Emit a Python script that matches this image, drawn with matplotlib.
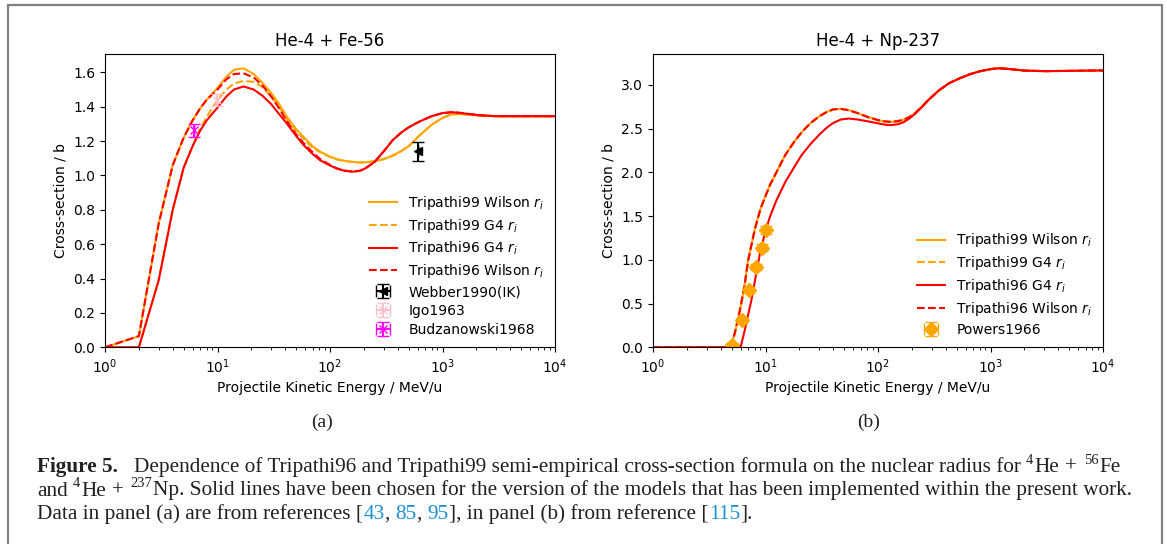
import matplotlib
matplotlib.use("Agg")
import matplotlib.pyplot as plt
from matplotlib.transforms import IdentityTransform
from matplotlib.patches import Rectangle

# ---------------- data: panel (a) He-4 + Fe-56 ----------------
energy_a = [1, 2, 3, 4, 5, 6, 7, 8, 10, 12, 14, 17, 21, 25, 30, 35, 41, 50, 58, 70,
            82, 100, 115, 135, 160, 185, 210, 250, 300, 360, 430, 500, 630, 800,
            1000, 1200, 1400, 1700, 2200, 3000, 5000, 10000]
t99_wilson_a = [0.0, 0.065, 0.72, 1.06, 1.22, 1.32, 1.39, 1.44, 1.51, 1.575, 1.615, 1.624,
                1.59, 1.54, 1.48, 1.42, 1.345, 1.27, 1.225, 1.17, 1.138, 1.11, 1.095,
                1.085, 1.079, 1.076, 1.077, 1.083, 1.095, 1.115, 1.142, 1.17, 1.235, 1.295,
                1.335, 1.355, 1.358, 1.354, 1.348, 1.345, 1.345, 1.345]
t99_g4_a = [0.0, 0.0, 0.39, 0.80, 1.045, 1.17, 1.27, 1.34, 1.44, 1.50, 1.535, 1.55,
            1.545, 1.515, 1.46, 1.405, 1.33, 1.26, 1.215, 1.162, 1.135, 1.107, 1.093,
            1.084, 1.078, 1.075, 1.077, 1.083, 1.095, 1.115, 1.142, 1.17, 1.235, 1.295,
            1.335, 1.355, 1.358, 1.354, 1.348, 1.345, 1.345, 1.345]
t96_g4_a = [0.0, 0.0, 0.39, 0.80, 1.045, 1.17, 1.26, 1.32, 1.395, 1.46, 1.50, 1.518,
            1.50, 1.465, 1.415, 1.36, 1.305, 1.23, 1.178, 1.125, 1.088, 1.058, 1.04,
            1.027, 1.022, 1.027, 1.044, 1.08, 1.14, 1.205, 1.25, 1.28, 1.315, 1.345,
            1.363, 1.368, 1.365, 1.358, 1.35, 1.345, 1.345, 1.345]
t96_wilson_a = [0.0, 0.065, 0.72, 1.06, 1.22, 1.32, 1.39, 1.44, 1.50, 1.56, 1.59, 1.595,
                1.57, 1.525, 1.46, 1.395, 1.32, 1.24, 1.19, 1.135, 1.095, 1.062, 1.041,
                1.028, 1.023, 1.028, 1.045, 1.08, 1.14, 1.205, 1.25, 1.28, 1.315, 1.345,
                1.363, 1.368, 1.365, 1.358, 1.35, 1.345, 1.345, 1.345]

webber_E = [600]
webber_xs = [1.14]
webber_err = [0.056]
igo_E = [9.8]
igo_xs = [1.44]
igo_err = [0.036]
budz_E = [6.2]
budz_xs = [1.263]
budz_err = [0.037]

# ---------------- data: panel (b) He-4 + Np-237 ----------------
energy_b = [1, 2, 3, 4, 4.8, 5, 5.4, 6, 6.5, 7, 7.5, 8, 9, 10, 11, 12.5, 15, 18, 21, 25,
            30, 35, 40, 47, 55, 65, 80, 100, 115, 130, 150, 170, 190, 215, 245, 280,
            350, 430, 530, 650, 800, 1000, 1200, 1500, 2000, 3000, 5000, 10000]
upper_b = [0.0, 0.0, 0.0, 0.0, 0.0, 0.03, 0.19, 0.46, 0.70, 0.99, 1.17, 1.34, 1.58,
           1.73, 1.86, 2.0, 2.2, 2.35, 2.46, 2.56, 2.64, 2.69, 2.72, 2.725, 2.71, 2.68,
           2.635, 2.597, 2.582, 2.577, 2.585, 2.603, 2.632, 2.68, 2.75, 2.826, 2.94,
           3.02, 3.074, 3.12, 3.155, 3.18, 3.19, 3.18, 3.163, 3.157, 3.16, 3.165]
t99_wilson_b = upper_b
t99_g4_b = upper_b
t96_wilson_b = upper_b
t96_g4_b = [0.0, 0.0, 0.0, 0.0, 0.0, 0.0, 0.0, 0.0, 0.18, 0.37, 0.54, 0.74, 1.10,
            1.33, 1.50, 1.68, 1.89, 2.06, 2.2, 2.32, 2.43, 2.51, 2.565, 2.605, 2.615,
            2.605, 2.585, 2.56, 2.545, 2.54, 2.55, 2.575, 2.615, 2.672, 2.745, 2.826,
            2.94, 3.02, 3.074, 3.12, 3.155, 3.18, 3.19, 3.18, 3.163, 3.157, 3.16, 3.165]

powers_E = [5.07, 6.22, 7.13, 8.18, 9.37, 10.2]
powers_xs = [0.03, 0.31, 0.655, 0.915, 1.14, 1.342]
powers_err = [0.02, 0.03, 0.03, 0.035, 0.037, 0.043]

# ---------------- figure ----------------
W, H = 1167, 544
fig = plt.figure(figsize=(W / 100, H / 100), dpi=100)
fig.patch.set_facecolor("white")

ax_b = (544 - 347.3) / H
ax_h = 293 / H
axA = fig.add_axes([105 / W, ax_b, 450 / W, ax_h])
axB = fig.add_axes([653 / W, ax_b, 450 / W, ax_h])

labels = ["Tripathi99 Wilson $r_i$", "Tripathi99 G4 $r_i$",
          "Tripathi96 G4 $r_i$", "Tripathi96 Wilson $r_i$"]
styles = [("orange", "-"), ("orange", "--"), ("red", "-"), ("red", "--")]

for series, (c, ls), lab in zip([t99_wilson_a, t99_g4_a, t96_g4_a, t96_wilson_a], styles, labels):
    axA.plot(energy_a, series, color=c, ls=ls, lw=1.5, label=lab)
axA.errorbar(webber_E, webber_xs, yerr=webber_err, xerr=[0], fmt="<", color="black",
             ms=6, capsize=4, label="Webber1990(IK)")
axA.errorbar(igo_E, igo_xs, yerr=igo_err, xerr=[0], fmt="x", color="pink",
             ms=6, capsize=4, label="Igo1963")
axA.errorbar(budz_E, budz_xs, yerr=budz_err, xerr=[0], fmt="x", color="magenta",
             ms=6, capsize=4, label="Budzanowski1968")

for series, (c, ls), lab in zip([t99_wilson_b, t99_g4_b, t96_g4_b, t96_wilson_b], styles, labels):
    axB.plot(energy_b, series, color=c, ls=ls, lw=1.5, label=lab)
axB.errorbar(powers_E, powers_xs, yerr=powers_err, xerr=[0] * len(powers_E), fmt="D",
             color="orange", ms=7, capsize=4, label="Powers1966")

for ax, title in [(axA, "He-4 + Fe-56"), (axB, "He-4 + Np-237")]:
    ax.set_xscale("log")
    ax.set_xlim(1, 1e4)
    ax.set_ylim(bottom=0)
    ax.set_title(title, fontsize=12)
    ax.set_xlabel("Projectile Kinetic Energy / MeV/u", fontsize=10)
    ax.set_ylabel("Cross-section / b", fontsize=10)
    ax.tick_params(labelsize=10)
    ax.legend(loc="lower right", frameon=False, fontsize=10, labelspacing=0.35,
              borderaxespad=0.35)

# ---------------- outer frame ----------------
fig.add_artist(Rectangle((8, -10), 1154, 539 + 10, transform=IdentityTransform(),
                         fill=False, edgecolor="#808080", lw=1.6))

# ---------------- panel letters ----------------
serif = "Liberation Serif"
txtc = "#231f20"
fig.text(322, H - 422, "(a)", transform=IdentityTransform(), ha="center", va="center",
         family=serif, fontsize=14, color=txtc)
fig.text(869, H - 422, "(b)", transform=IdentityTransform(), ha="center", va="center",
         family=serif, fontsize=14, color=txtc)

# ---------------- caption ----------------
renderer = fig.canvas.get_renderer()
blue = "#1a8fd6"


def draw_runs(x0, y_base, runs, size, draw=True):
    """runs: list of (text, gap_em, opts). Returns end x."""
    x = x0
    arts = []
    px = size * 100 / 72.0
    for text, gap, opts in runs:
        x += gap * px
        sc = opts.get("scale", 1.0)
        rise = opts.get("rise", 0.0) * px
        t = fig.text(x, H - y_base + rise, text, transform=IdentityTransform(),
                     ha="left", va="baseline", family=serif, fontsize=size * sc,
                     color=opts.get("color", txtc),
                     fontweight=opts.get("weight", "normal"))
        bb = t.get_window_extent(renderer)
        x = bb.x1
        arts.append(t)
    if not draw:
        for a in arts:
            a.remove()
    return x


SUP = {"scale": 0.68, "rise": 0.38}
B = {"color": blue}
line1 = [("Figure 5.", 0, {"weight": "bold"}),
         ("Dependence of Tripathi96 and Tripathi99 semi-empirical cross-section formula on the nuclear radius for", 0.75, {}),
         ("4", 0.25, SUP), ("He", 0.04, {}), ("+", 0.3, {}), ("56", 0.3, SUP), ("Fe", 0.04, {})]
line2 = [("and", 0, {}), ("4", 0.25, SUP), ("He", 0.04, {}), ("+", 0.3, {}),
         ("237", 0.3, SUP),
         ("Np. Solid lines have been chosen for the version of the models that has been implemented within the present work.", 0.04, {})]
line3 = [("Data in panel (a) are from references [", 0, {}), ("43", 0.02, B), (",", 0, {}),
         ("85", 0.25, B), (",", 0, {}), ("95", 0.25, B),
         ("], in panel (b) from reference [", 0.02, {}), ("115", 0.02, B), ("].", 0.02, {})]

base = 13.0
end = draw_runs(37, 495.5, line2, base, draw=False)
size = base * (1130 - 37) / (end - 37)
draw_runs(37, 472, line1, size)
draw_runs(37, 495.5, line2, size)
draw_runs(37, 519, line3, size)

fig.savefig("out.png", dpi=100)
